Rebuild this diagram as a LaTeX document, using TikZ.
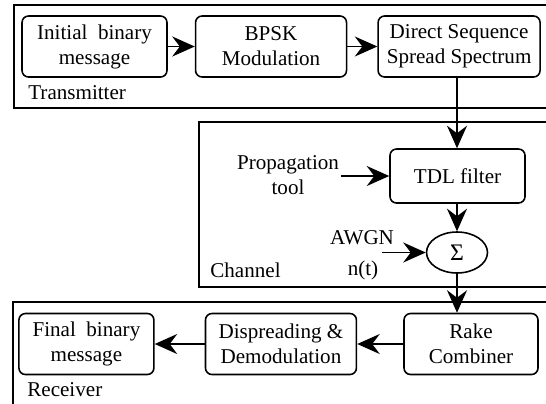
\documentclass[tikz,border=0pt]{standalone}
\usepackage{fontspec}
\setmainfont{Liberation Serif}
\usetikzlibrary{shapes.geometric, arrows.meta, positioning}

\begin{document}
\begin{tikzpicture}[
    x=0.02cm, y=-0.02cm,
    font=\fontsize{12}{14.2}\selectfont,
    block/.style={rectangle, rounded corners=1.3mm, draw=black, line width=0.9pt, align=center, minimum height=1.22cm, inner sep=2pt},
    summer/.style={ellipse, draw=black, line width=0.9pt, minimum width=1.22cm, minimum height=0.82cm, inner sep=0pt, font=\fontsize{13.5}{14}\selectfont},
    frame/.style={draw=black, line width=0.8pt},
    arrow/.style={-{Stealth[length=4.5mm, width=4mm, inset=1.5mm]}, line width=1.1pt},
    label/.style={align=center, inner sep=0pt}
]
\useasboundingbox (0,0) rectangle (546,403);

% Frames
\draw[frame] (548,5) -- (14,5) -- (14,108) -- (548,108);
\draw[frame] (548,122) -- (199,122) -- (199,287) -- (548,287);
\draw[frame] (548,302) -- (13,302) -- (13,410);

% Transmitter
\node[block, minimum width=2.9cm] (init) at (94.5,46.5) {Initial~~binary\\message};
\node[block, minimum width=3.02cm, right=0.54cm of init] (bpsk) {BPSK\\Modulation};
\node[block, minimum width=3.24cm, right=0.6cm of bpsk] (dsss) {Direct Sequence\\Spread Spectrum};
\node[label, anchor=west] (tx) at (28,93) {Transmitter};

% Channel
\node[block, minimum width=2.7cm, minimum height=1.08cm] (tdl) at (457.5,176) {TDL filter};
\node[summer] (sum) at (457,252.5) {Σ};
\node[label] (prop) at (288,175) {Propagation\\tool};
\node[label] (awgn) at (362,238) {AWGN};
\node[label] (noise) at (363,270) {n(t)};
\node[label, anchor=west] (ch) at (210,270) {Channel};

% Receiver
\node[block, minimum width=2.68cm] (rake) at (471,344) {Rake\\Combiner};
\node[block, minimum width=3.02cm, left=0.92cm of rake] (disp) {Dispreading \&\\Demodulation};
\node[block, minimum width=2.7cm, left=1cm of disp] (final) {Final~~binary\\message};
\node[label, anchor=west] (rx) at (27,390) {Receiver};

% Connections
\draw[arrow] (init) -- (bpsk);
\draw[arrow] (bpsk) -- (dsss);
\draw[arrow] (dsss.south -| sum) -- (tdl.north -| sum);
\draw[arrow] ([xshift=-0.96cm]tdl.west) -- (tdl.west);
\draw[arrow] (tdl.south -| sum) -- (sum);
\draw[arrow] ([xshift=-0.88cm]sum.west) -- (sum.west);
\draw[arrow] (sum.south) -- (sum.south |- rake.north);
\draw[arrow] (rake) -- (disp);
\draw[arrow] (disp) -- (final);

\end{tikzpicture}
\end{document}
